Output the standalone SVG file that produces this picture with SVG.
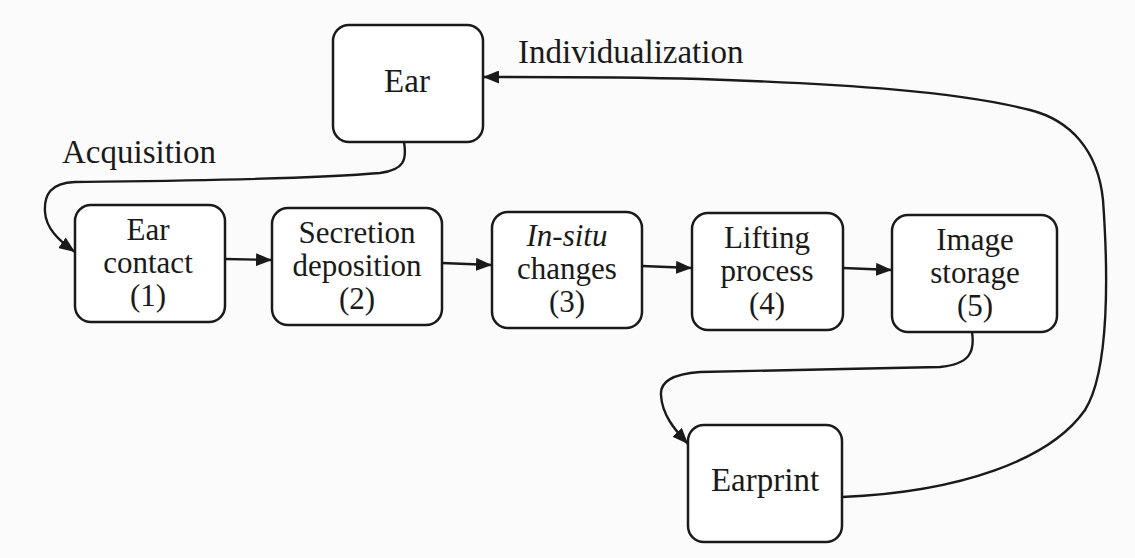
<svg xmlns="http://www.w3.org/2000/svg" width="1135" height="558" viewBox="0 0 1135 558">
<defs>
<style>
.box{fill:#ffffff;stroke:#1a1a1a;stroke-width:2.5}
.t{font-family:"Liberation Serif","Times New Roman",serif;font-size:31px;fill:#1a1a1a;text-anchor:middle}
.big{font-size:33px}
.lbl{font-family:"Liberation Serif","Times New Roman",serif;font-size:33px;fill:#1a1a1a}
.c{fill:none;stroke:#1a1a1a;stroke-width:2.4}
</style>
<marker id="ah" viewBox="0 0 16 13" refX="16" refY="6.5" markerWidth="16" markerHeight="13" markerUnits="userSpaceOnUse" orient="auto">
<path d="M0,0 L16,6.5 L0,13 Z" fill="#1a1a1a"/>
</marker>
</defs>
<rect x="0" y="0" width="1135" height="558" fill="#fbfbfb"/>
<g id="connectors">
<path class="c" marker-end="url(#ah)" d="M225,259 L272,260"/>
<path class="c" marker-end="url(#ah)" d="M442,263 L492,265"/>
<path class="c" marker-end="url(#ah)" d="M642,266 L692,268"/>
<path class="c" marker-end="url(#ah)" d="M843,268 L892,270"/>
<path class="c" marker-end="url(#ah)" d="M404,142 C407,160 404,170 380,173 C300,180 150,181 75,182 C50,183 44,195 45,212 C46,228 58,240 75,252"/>
<path class="c" marker-end="url(#ah)" d="M972,332 C975,352 970,364 940,367 C860,369 760,370 700,372 C672,374 660,382 661,395 C662,415 675,430 688,444"/>
<path class="c" marker-end="url(#ah)" d="M842,497 C960,492 1050,460 1085,410 C1110,370 1108,270 1103,200 C1098,150 1070,120 1030,110 C960,92 850,84 700,79 C620,77 540,77 483,77"/>
</g>
<text class="lbl" x="518" y="63">Individualization</text>
<text class="lbl" x="62" y="163">Acquisition</text>
<g id="ear">
<rect class="box" x="333" y="25" width="150" height="117" rx="16"/>
<text class="t big" x="407" y="92">Ear</text>
</g>
<g id="ear-contact">
<rect class="box" x="75" y="205" width="150" height="117" rx="16"/>
<text class="t" x="148" y="240">Ear</text>
<text class="t" x="148" y="273">contact</text>
<text class="t" x="148" y="306">(1)</text>
</g>
<g id="secretion">
<rect class="box" x="272" y="208" width="170" height="117" rx="16"/>
<text class="t" x="357" y="243">Secretion</text>
<text class="t" x="357" y="276">deposition</text>
<text class="t" x="357" y="309">(2)</text>
</g>
<g id="in-situ">
<rect class="box" x="492" y="212" width="150" height="116" rx="16"/>
<text class="t" x="567" y="246"><tspan font-style="italic">In-situ</tspan></text>
<text class="t" x="567" y="279">changes</text>
<text class="t" x="567" y="312">(3)</text>
</g>
<g id="lifting">
<rect class="box" x="692" y="213" width="151" height="117" rx="16"/>
<text class="t" x="767" y="248">Lifting</text>
<text class="t" x="767" y="281">process</text>
<text class="t" x="767" y="314">(4)</text>
</g>
<g id="image-storage">
<rect class="box" x="892" y="215" width="165" height="117" rx="16"/>
<text class="t" x="975" y="250">Image</text>
<text class="t" x="975" y="283">storage</text>
<text class="t" x="975" y="316">(5)</text>
</g>
<g id="earprint">
<rect class="box" x="688" y="425" width="154" height="117" rx="16"/>
<text class="t big" x="765" y="491">Earprint</text>
</g>
</svg>
